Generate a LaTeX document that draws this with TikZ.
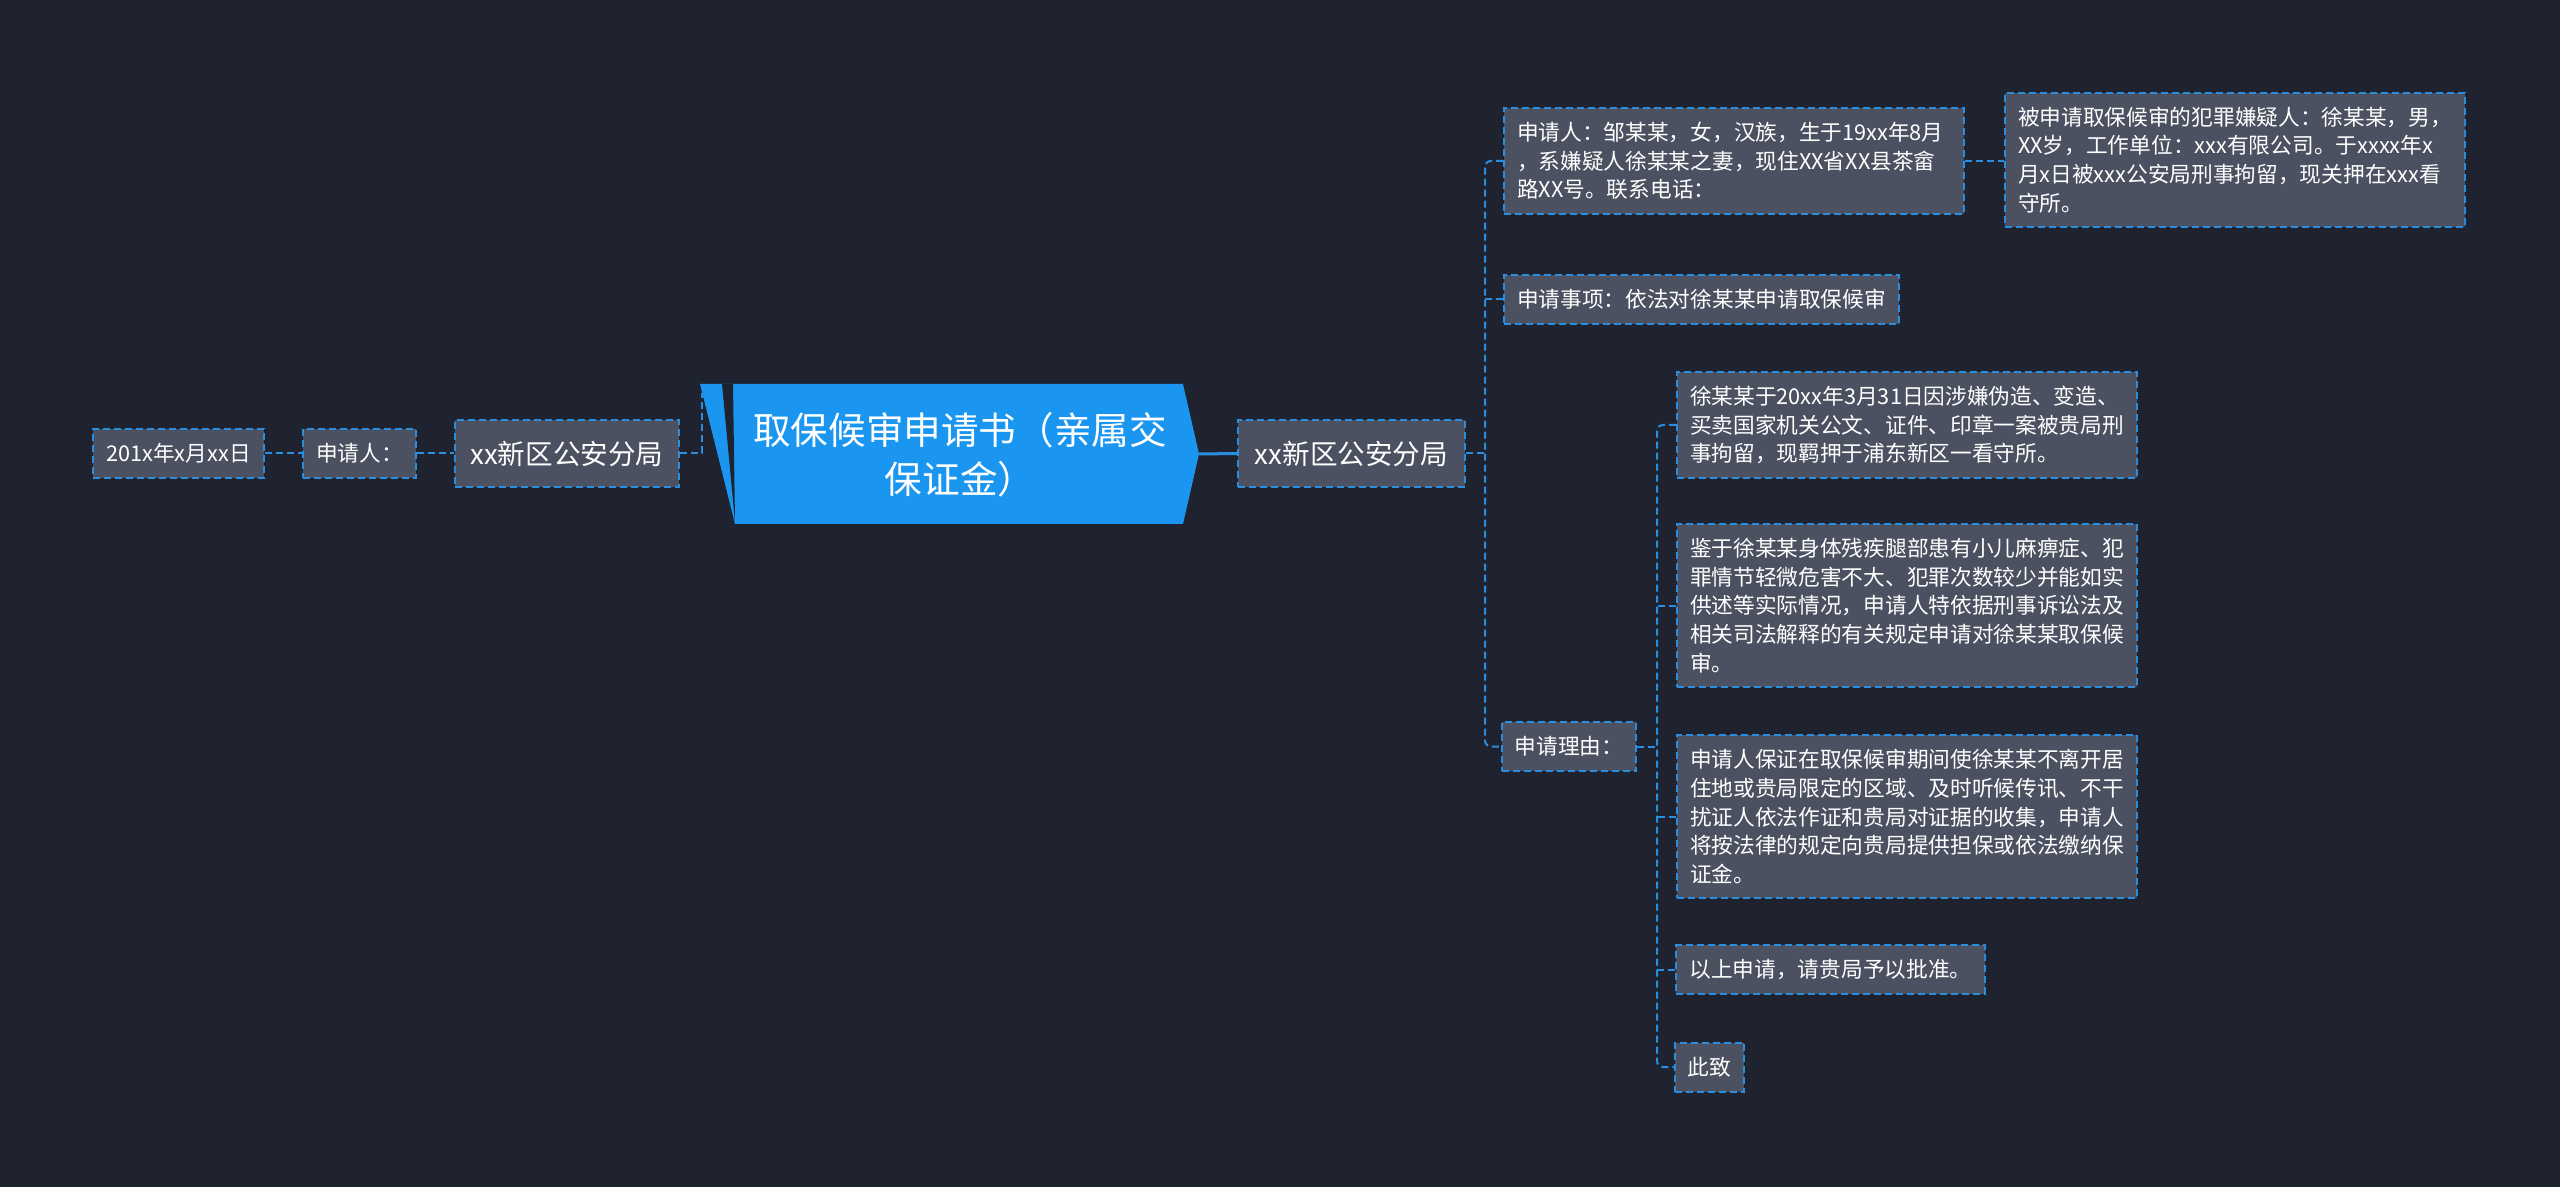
\documentclass[tikz,border=0pt]{standalone}
\usepackage{fontspec}
\setmainfont{Noto Sans CJK SC}
\usetikzlibrary{calc}
\definecolor{bg}{RGB}{31,35,47}
\definecolor{card}{RGB}{75,81,97}
\definecolor{edge}{RGB}{42,142,224}
\definecolor{hub}{RGB}{27,150,240}

\begin{document}
\begin{tikzpicture}[x=0.5pt,y=-0.5pt,
  box/.style={draw=edge,line width=1pt,dash pattern=on 3.5pt off 2pt,fill=card,text=white,
    font=\fontsize{10.85pt}{14.3pt}\selectfont,inner xsep=6.5pt,inner ysep=0pt,minimum height=24.5pt},
  para/.style={box,text width=217pt,align=left},
  big/.style={box,font=\fontsize{13.8pt}{16pt}\selectfont,minimum height=33.5pt},
  link/.style={draw=edge,line width=1pt,dash pattern=on 3.5pt off 2pt}]
\fill[bg] (0,0) rectangle (2560,1187);

% centre
\fill[hub] (700,384) -- (1183,384) -- (1199,454) -- (1183,524) -- (735,524) -- cycle;
\fill[bg] (722,384) -- (733,384) -- (735,522) -- cycle;
\node[text=white,align=center,font=\fontsize{18.8pt}{24.5pt}\selectfont] (title) at (960,455) {取保候审申请书（亲属交\\保证金）};
\coordinate (tip) at (1199,454);
\coordinate (lhook) at (702,393);

% left side
\node[box,minimum width=85.5pt] (date) at (178.5,453.5) {201x年x月xx日};
\node[box,minimum width=55.5pt] (appl) at (359.5,453.5) {申请人：};
\node[big,minimum width=112pt] (lbur) at (567,453.5) {xx新区公安分局};
\draw[link] (date.east) -- (appl.west);
\draw[link] (appl.east) -- (lbur.west);
\draw[link] (lbur.east) -| (lhook);

% right side
\node[big,minimum width=113.5pt] (rbur) at (1351.5,453.5) {xx新区公安分局};
\draw[edge,line width=1.5pt] (tip) -- (rbur.west);
\coordinate (rjoint) at (1485,453.5);

\node[para,minimum height=53pt] (b1) at (1734,161) {申请人：邹某某，女，汉族，生于19xx年8月\\，系嫌疑人徐某某之妻，现住XX省XX县茶畲\\路XX号。联系电话：};
\node[para,minimum height=67pt] (b2) at (2235,160) {被申请取保候审的犯罪嫌疑人：徐某某，男，\\XX岁，工作单位：xxx有限公司。于xxxx年x\\月x日被xxx公安局刑事拘留，现关押在xxx看\\守所。};
\node[box,minimum width=197.5pt] (item) at (1701.5,299.5) {申请事项：依法对徐某某申请取保候审};
\node[box,minimum width=65pt] (reason) at (1569,746.5) {申请理由：};

\draw[link] (rbur.east) -- (rjoint);
\draw[link,rounded corners=3pt] (b1.west) -| (reason.west -| rjoint) -- (reason.west);
\draw[link] (item.west) -- (item.west -| rjoint);
\draw[link] (b1.east) -- (b1.east -| b2.west);

% reasons
\coordinate (sjoint) at (1657,746.5);
\node[para,minimum height=53pt] (r1) at (1907,425) {徐某某于20xx年3月31日因涉嫌伪造、变造、\\买卖国家机关公文、证件、印章一案被贵局刑\\事拘留，现羁押于浦东新区一看守所。};
\node[para,minimum height=81.5pt] (r2) at (1907,605.5) {鉴于徐某某身体残疾腿部患有小儿麻痹症、犯\\罪情节轻微危害不大、犯罪次数较少并能如实\\供述等实际情况，申请人特依据刑事诉讼法及\\相关司法解释的有关规定申请对徐某某取保候\\审。};
\node[para,minimum height=81.5pt] (r3) at (1907,816.5) {申请人保证在取保候审期间使徐某某不离开居\\住地或贵局限定的区域、及时听候传讯、不干\\扰证人依法作证和贵局对证据的收集，申请人\\将按法律的规定向贵局提供担保或依法缴纳保\\证金。};
\node[box,minimum width=153.5pt] (r4) at (1830.5,969.5) {以上申请，请贵局予以批准。};
\node[box,minimum width=32.5pt] (r5) at (1709.5,1067) {此致};

\draw[link] (reason.east) -- (sjoint);
\draw[link,rounded corners=3pt] (r1.west) -| (r5.west -| sjoint) -- (r5.west);
\foreach \n in {r2,r3,r4}
  \draw[link] (\n.west) -- (\n.west -| sjoint);
\end{tikzpicture}
\end{document}
